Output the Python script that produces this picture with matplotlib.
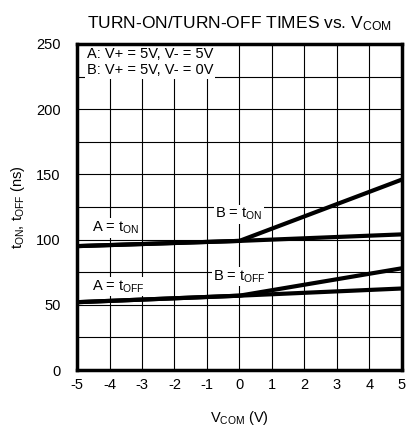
import matplotlib
matplotlib.use("Agg")
from matplotlib import pyplot as plt

# datos
vcom = [-5, 0, 5]
a_on = [95, 99, 104]
b_on = [95, 99, 146]
a_off = [52, 57, 62.5]
b_off = [52, 57, 78]
xticks = [-5, -4, -3, -2, -1, 0, 1, 2, 3, 4, 5]
xlabels = ['-5', '-4', '-3', '-2', '-1', '0', '1', '2', '3', '4', '5']
yticks = [0, 50, 100, 150, 200, 250]

plt.rcParams['font.family'] = ['Liberation Sans', 'DejaVu Sans']
plt.rcParams['mathtext.default'] = 'regular'

fig = plt.figure(figsize=(4.1, 4.29), dpi=100)
ax = fig.add_axes([0.188, 0.1375, 0.792, 0.76])

# lineas
for serie in (a_on, b_on, a_off, b_off):
    ax.plot(vcom, serie, color='black', lw=3, solid_capstyle='butt', zorder=3)

# rejilla
for xv in xticks:
    ax.axvline(xv, color='black', lw=0.8, zorder=1)
for yv in range(0, 251, 25):
    ax.axhline(yv, color='black', lw=0.8, zorder=1)

caja = dict(facecolor='white', edgecolor='none', pad=1)
ax.text(-4.55, 109, r'A = $t_{ON}$', fontsize=10.5, va='center', bbox=caja, zorder=2)
ax.text(-0.75, 119.5, r'B = $t_{ON}$', fontsize=10.5, va='center', bbox=caja, zorder=2)
ax.text(-4.55, 64, r'A = $t_{OFF}$', fontsize=10.5, va='center', bbox=caja, zorder=2)
ax.text(-0.8, 71.5, r'B = $t_{OFF}$', fontsize=10.5, va='center', bbox=caja, zorder=2)
ax.text(-4.7, 242, 'A: V+ = 5V, V- = 5V', fontsize=10.5, va='center', bbox=caja, zorder=2)
ax.text(-4.7, 230, 'B: V+ = 5V, V- = 0V', fontsize=10.5, va='center', bbox=caja, zorder=2)

ax.set_xlim(-5, 5)
ax.set_ylim(0, 250)
ax.set_xticks(xticks, xlabels)
ax.set_yticks(yticks)
ax.tick_params(axis='x', length=0, pad=6, labelsize=10.5)
ax.tick_params(axis='y', length=0, pad=12, labelsize=10.5)
for s in ax.spines.values():
    s.set_linewidth(2.5)
    s.set_zorder(4)

ax.set_title(r'TURN-ON/TURN-OFF TIMES vs. $V_{COM}$', fontsize=12.5, pad=11)
ax.set_xlabel(r'$V_{COM}$ (V)', fontsize=10.5, labelpad=12)
ax.set_ylabel(r'$t_{ON}$, $t_{OFF}$ (ns)', fontsize=10.5, labelpad=6)

plt.savefig('out.png', dpi=100)
